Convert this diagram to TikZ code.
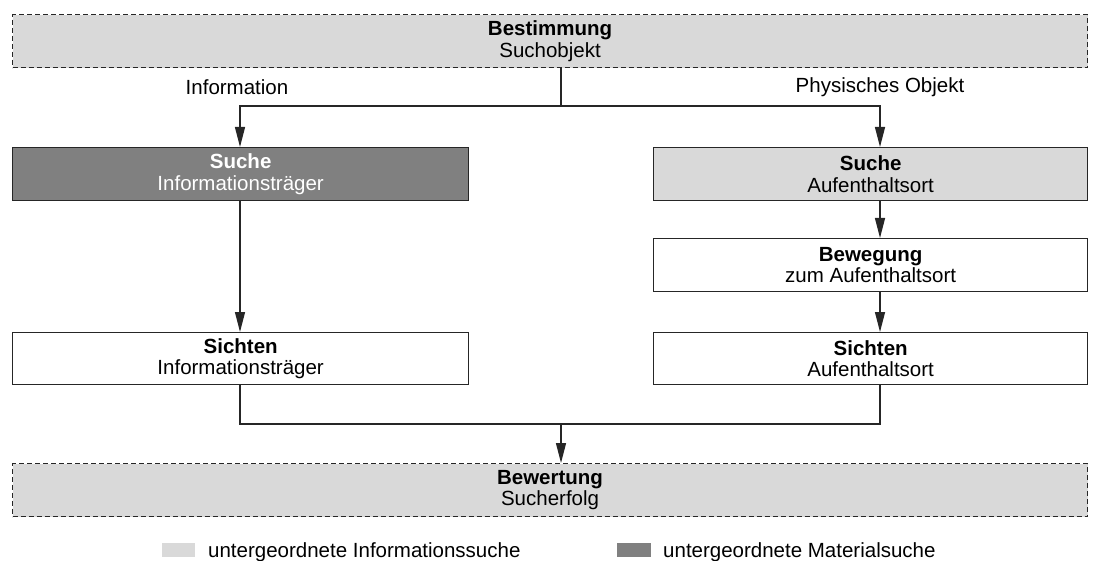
\documentclass[tikz,border=0pt]{standalone}
\usepackage{fontspec}
\setmainfont{Liberation Sans}
\usetikzlibrary{arrows.meta}
\definecolor{lightg}{HTML}{D9D9D9}
\definecolor{darkg}{HTML}{808080}
\begin{document}
\begin{tikzpicture}[x=1pt,y=-1pt,
  font=\fontsize{20.5}{21.5}\selectfont,
  box/.style={draw=black!85,line width=1.3pt,minimum height=53pt,inner sep=0pt,align=center,anchor=north west},
  dbox/.style={box,dashed,dash pattern=on 5pt off 3pt,fill=lightg,line width=1.1pt},
  conn/.style={line width=1.3pt,draw=black!85},
  arr/.style={conn,-{Triangle[length=20pt,width=10pt]}},
  lbl/.style={inner sep=0pt}
]
\useasboundingbox (0,0) rectangle (1099,561);
\node[dbox,minimum width=1075pt] (best) at (12,14) {\textbf{Bestimmung}\\Suchobjekt};
\node[box,fill=darkg,text=white,minimum width=456pt] (sucheI) at (12,147) {\textbf{Suche}\\Informationsträger};
\node[box,fill=lightg,minimum width=434pt] (sucheA) at (653,147) {\textbf{Suche}\\Aufenthaltsort};
\node[box,fill=white,minimum width=434pt] (beweg) at (653,238) {\textbf{Bewegung}\\zum Aufenthaltsort};
\node[box,fill=white,minimum width=434pt,minimum height=52pt] (sichA) at (653,332) {\textbf{Sichten}\\Aufenthaltsort};
\node[box,fill=white,minimum width=456pt,minimum height=52pt] (sichI) at (12,332) {\textbf{Sichten}\\Informationsträger};
\node[dbox,minimum width=1075pt] (bewert) at (12,463) {\textbf{Bewertung}\\Sucherfolg};

\coordinate (split) at (561,106);
\coordinate (join) at (561,424);
\draw[conn] (best.south -| split) -- (split);
\draw[arr] (split) -| (240,147);
\draw[arr] (split) -| (880,147);
\node[lbl] (linfo) at (237,87) {Information};
\node[lbl] (lphys) at (880,87) {Physisches Objekt};

\draw[arr] (sucheI.south -| 240,0) -- (sichI.north -| 240,0);
\draw[arr] (sucheA.south -| 880,0) -- (beweg.north -| 880,0);
\draw[arr] (beweg.south -| 880,0) -- (sichA.north -| 880,0);

\draw[conn] (sichI.south -| 240,0) |- (join) -| (sichA.south -| 880,0);
\draw[arr] (join) -- (bewert.north -| join);

% legend
\fill[lightg] (162,543) rectangle (195,557);
\node[lbl,anchor=base west] (leg1) at (208,557) {untergeordnete Informationssuche};
\fill[darkg] (617,543) rectangle (651,557);
\node[lbl,anchor=base west] (leg2) at (663,557) {untergeordnete Materialsuche};
\end{tikzpicture}
\end{document}
